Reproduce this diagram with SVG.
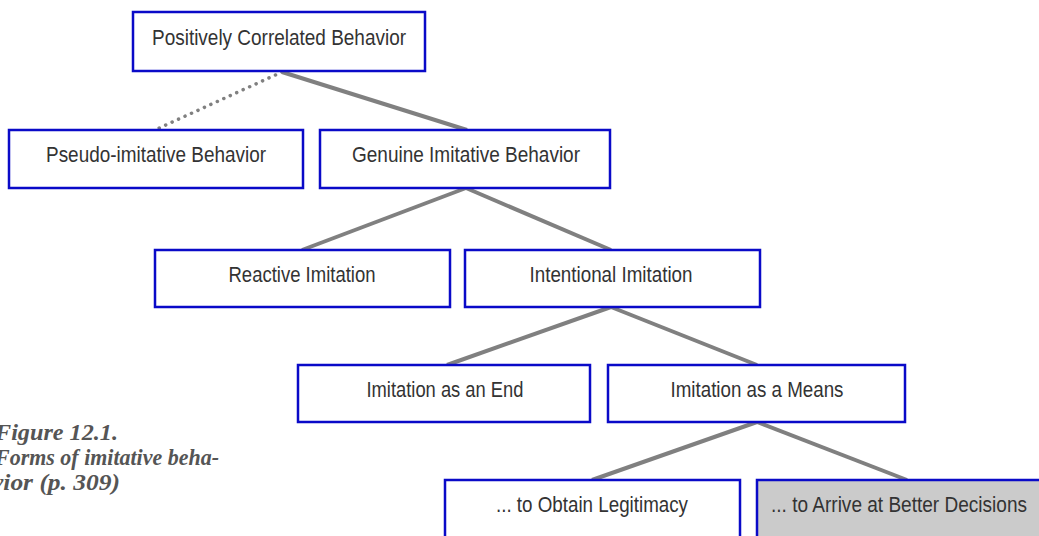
<svg xmlns="http://www.w3.org/2000/svg" width="1039" height="536" viewBox="0 0 1039 536">
<style>
.box{fill:#fff;stroke:#0a0ac8;stroke-width:2.5}
.grey{fill:#cbcbcb}
.lbl{font-family:"Liberation Sans Narrow","Liberation Sans",Arial,sans-serif;font-size:22px;fill:#333;text-anchor:middle}
.con{stroke:#808080;stroke-width:4;fill:none}
.dot{stroke:#808080;stroke-width:3.5;fill:none;stroke-dasharray:0.1 7;stroke-linecap:round}
.cap{font-family:"Liberation Serif","Times New Roman",serif;font-style:italic;font-weight:bold;font-size:23px;fill:#555}
</style>
<rect width="1039" height="536" fill="#fff"/>
<g id="connectors">
<line class="dot" x1="282" y1="72" x2="157" y2="129"/>
<line class="con" x1="282" y1="72" x2="467" y2="130"/>
<line class="con" x1="466" y1="188" x2="302" y2="250"/>
<line class="con" x1="466" y1="188" x2="611" y2="250"/>
<line class="con" x1="611" y1="307" x2="447" y2="365"/>
<line class="con" x1="611" y1="307" x2="757" y2="365"/>
<line class="con" x1="757" y1="422" x2="592" y2="480"/>
<line class="con" x1="757" y1="422" x2="907" y2="480"/>
</g>
<g id="n-positive"><rect class="box" x="133" y="12" width="292" height="59"/><text class="lbl" x="279" y="45" textLength="254" lengthAdjust="spacingAndGlyphs">Positively Correlated Behavior</text></g>
<g id="n-pseudo"><rect class="box" x="9" y="130" width="294" height="58"/><text class="lbl" x="156" y="162" textLength="220" lengthAdjust="spacingAndGlyphs">Pseudo-imitative Behavior</text></g>
<g id="n-genuine"><rect class="box" x="320" y="130" width="290" height="58"/><text class="lbl" x="466" y="162" textLength="228" lengthAdjust="spacingAndGlyphs">Genuine Imitative Behavior</text></g>
<g id="n-reactive"><rect class="box" x="155" y="250" width="295" height="57"/><text class="lbl" x="302" y="282" textLength="147" lengthAdjust="spacingAndGlyphs">Reactive Imitation</text></g>
<g id="n-intentional"><rect class="box" x="465" y="250" width="295" height="57"/><text class="lbl" x="611" y="282" textLength="163" lengthAdjust="spacingAndGlyphs">Intentional Imitation</text></g>
<g id="n-end"><rect class="box" x="298" y="365" width="292" height="57"/><text class="lbl" x="445" y="397" textLength="157" lengthAdjust="spacingAndGlyphs">Imitation as an End</text></g>
<g id="n-means"><rect class="box" x="608" y="365" width="297" height="57"/><text class="lbl" x="757" y="397" textLength="173" lengthAdjust="spacingAndGlyphs">Imitation as a Means</text></g>
<g id="n-legit"><rect class="box" x="445" y="480" width="295" height="62"/><text class="lbl" x="592" y="512" textLength="192" lengthAdjust="spacingAndGlyphs">... to Obtain Legitimacy</text></g>
<g id="n-better"><rect class="box grey" x="757" y="480" width="290" height="62"/><text class="lbl" x="899" y="512" textLength="256" lengthAdjust="spacingAndGlyphs">... to Arrive at Better Decisions</text></g>
<g id="caption">
<text class="cap" x="-5" y="440" textLength="123" lengthAdjust="spacingAndGlyphs">Figure 12.1.</text>
<text class="cap" x="-5" y="465" textLength="224" lengthAdjust="spacingAndGlyphs">Forms of imitative beha-</text>
<text class="cap" x="-8" y="490" textLength="128" lengthAdjust="spacingAndGlyphs">vior (p. 309)</text>
</g>
</svg>
